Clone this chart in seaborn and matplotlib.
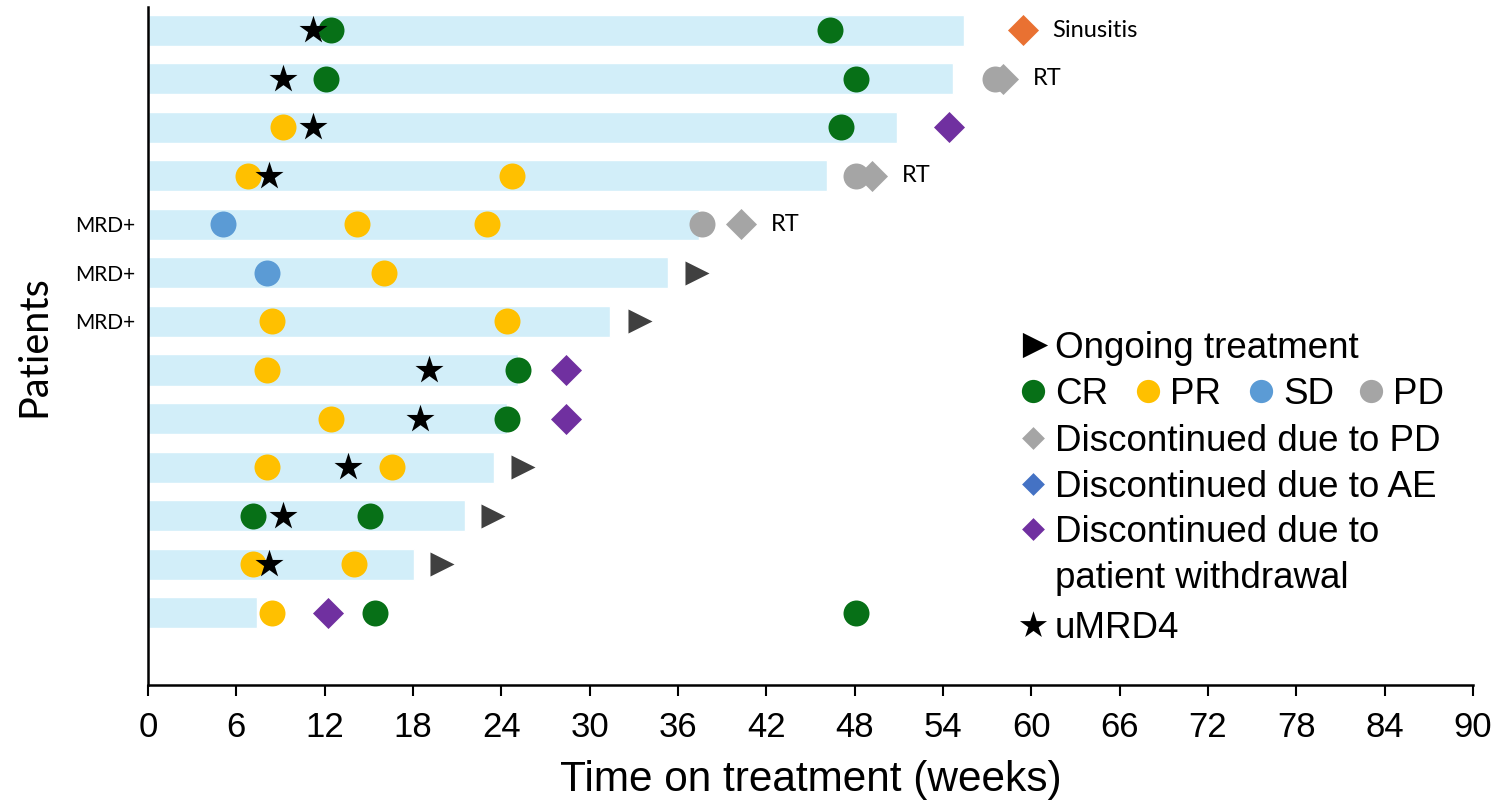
import matplotlib
matplotlib.use("Agg")
import matplotlib.pyplot as plt
import seaborn as sns
import pandas as pd

# ---------------- data ----------------
patients = [f"P{i}" for i in range(1, 14)]
weeks_on_treatment = [55.4, 54.7, 50.9, 46.1, 37.4, 35.3, 31.4, 25.1, 24.4, 23.5, 21.5, 18.1, 7.4]
mrd_positive_rows = [4, 5, 6]

cr_rows = [0, 0, 1, 1, 2, 7, 8, 10, 10, 12, 12]
cr_weeks = [12.4, 46.3, 12.1, 48.1, 47.1, 25.1, 24.4, 7.1, 15.1, 15.4, 48.1]
pr_rows = [2, 3, 3, 4, 4, 5, 6, 6, 7, 8, 9, 9, 11, 11, 12]
pr_weeks = [9.2, 6.8, 24.7, 14.2, 23.0, 16.0, 8.4, 24.4, 8.1, 12.4, 8.1, 16.6, 7.1, 14.0, 8.4]
sd_rows = [4, 5]
sd_weeks = [5.1, 8.1]
pd_rows = [1, 3, 4]
pd_weeks = [57.5, 48.1, 37.6]
umrd_rows = [0, 1, 2, 3, 7, 8, 9, 10, 11]
umrd_weeks = [11.2, 9.2, 11.2, 8.2, 19.1, 18.5, 13.6, 9.2, 8.2]
ongoing_rows = [5, 6, 9, 10, 11]
ongoing_weeks = [37.3, 33.4, 25.5, 23.4, 20.0]
disc_pd_rows = [1, 3, 4]
disc_pd_weeks = [58.1, 49.2, 40.3]
disc_wd_rows = [2, 7, 8, 12]
disc_wd_weeks = [54.4, 28.4, 28.4, 12.2]
sinusitis_rows = [0]
sinusitis_weeks = [59.4]
note_rows = [0, 1, 3, 4]
note_weeks = [59.4, 58.1, 49.2, 40.3]
note_texts = ["Sinusitis", "RT", "RT", "RT"]

x_ticks = list(range(0, 91, 6))

# ---------------- style ----------------
sns.set_style("ticks")
plt.rcParams["font.family"] = ["Liberation Sans", "DejaVu Sans"]
plt.rcParams["text.color"] = "black"
plt.rcParams["axes.labelcolor"] = "black"
plt.rcParams["xtick.color"] = "black"
plt.rcParams["ytick.color"] = "black"
CAL = ["Lato", "DejaVu Sans"]

C_BAR = "#D2EEF9"
C_CR = "#077017"
C_PR = "#FFC000"
C_SD = "#5B9BD5"
C_PD = "#A5A5A5"
C_AE = "#4472C4"
C_WD = "#7030A0"
C_SIN = "#E97132"
C_ONG = "#404040"

W, H = 1499, 808
fig = plt.figure(figsize=(W / 100, H / 100), dpi=100)
ax = fig.add_axes([148 / W, 1 - 685 / H, 1325 / W, 678 / H])

bars = pd.DataFrame({"patient": patients, "weeks": weeks_on_treatment})
sns.barplot(data=bars, x="weeks", y="patient", orient="h", color=C_BAR,
            saturation=1, width=0.64, errorbar=None, ax=ax, zorder=1)

def pts(rows, weeks, marker, color, s, z=3):
    sns.scatterplot(x=weeks, y=rows, marker=marker, color=color, s=s,
                    linewidth=0, ax=ax, zorder=z, clip_on=False)

pts(cr_rows, cr_weeks, "o", C_CR, 350)
pts(pr_rows, pr_weeks, "o", C_PR, 350)
pts(sd_rows, sd_weeks, "o", C_SD, 350)
pts(pd_rows, pd_weeks, "o", C_PD, 350)
pts(disc_pd_rows, disc_pd_weeks, "D", C_PD, 250)
pts(disc_wd_rows, disc_wd_weeks, "D", C_WD, 250)
pts(sinusitis_rows, sinusitis_weeks, "D", C_SIN, 250)
pts(ongoing_rows, ongoing_weeks, ">", C_ONG, 300)
pts(umrd_rows, umrd_weeks, "*", "black", 450, z=4)

for r, w, t in zip(note_rows, note_weeks, note_texts):
    ax.text(w + 2.0, r, t, va="center", ha="left", fontsize=17, family=CAL)

ax.set_xlim(0, 90)
ax.set_ylim(13.49, -0.48)
ax.set_xticks(x_ticks)
ax.set_xticklabels([str(t) for t in x_ticks], fontsize=25)
ax.set_yticks(mrd_positive_rows)
ax.set_yticklabels(["MRD+"] * len(mrd_positive_rows), fontsize=15, family=CAL)
ax.tick_params(axis="y", length=0, pad=9)
ax.tick_params(axis="x", length=8, width=1.5, direction="out", pad=11, color="black")
for s in ["top", "right"]:
    ax.spines[s].set_visible(False)
for s in ["left", "bottom"]:
    ax.spines[s].set_linewidth(1.8)
    ax.spines[s].set_color("black")
ax.set_xlabel("Time on treatment (weeks)", fontsize=30.5, labelpad=11)
ax.set_ylabel("Patients", fontsize=28.5, family=CAL)
ax.yaxis.set_label_coords(-0.072, 0.5)

# ---------------- legend (manual) ----------------
def fx(x):
    return x / W

def fy(y):
    return 1 - y / H

LEG_FS = 26.5
cap_px = 0.716 * LEG_FS * 100 / 72

def leg_marker(x, y, marker, color, s):
    ax.scatter([fx(x)], [fy(y)], marker=marker, color=color, s=s, linewidths=0,
               transform=fig.transFigure, clip_on=False, zorder=5)

def leg_text(x, y, text):
    fig.text(fx(x), fy(y + cap_px / 2), text, fontsize=LEG_FS, ha="left", va="baseline")

leg_marker(1035, 345, ">", "black", 330)
leg_text(1055, 345, "Ongoing treatment")
for mx, tx, col, lab in [(1033, 1055, C_CR, "CR"), (1148, 1170, C_PR, "PR"),
                         (1261, 1283, C_SD, "SD"), (1371, 1393, C_PD, "PD")]:
    leg_marker(mx, 391, "o", col, 280)
    leg_text(tx, 391, lab)
leg_marker(1033, 438, "D", C_PD, 135)
leg_text(1055, 438, "Discontinued due to PD")
leg_marker(1033, 484, "D", C_AE, 135)
leg_text(1055, 484, "Discontinued due to AE")
leg_marker(1033, 529, "D", C_WD, 135)
leg_text(1055, 529, "Discontinued due to")
leg_text(1055, 575, "patient withdrawal")
leg_marker(1033, 625, "*", "black", 420)
leg_text(1055, 625, "uMRD4")

fig.savefig("out.png", dpi=100)
